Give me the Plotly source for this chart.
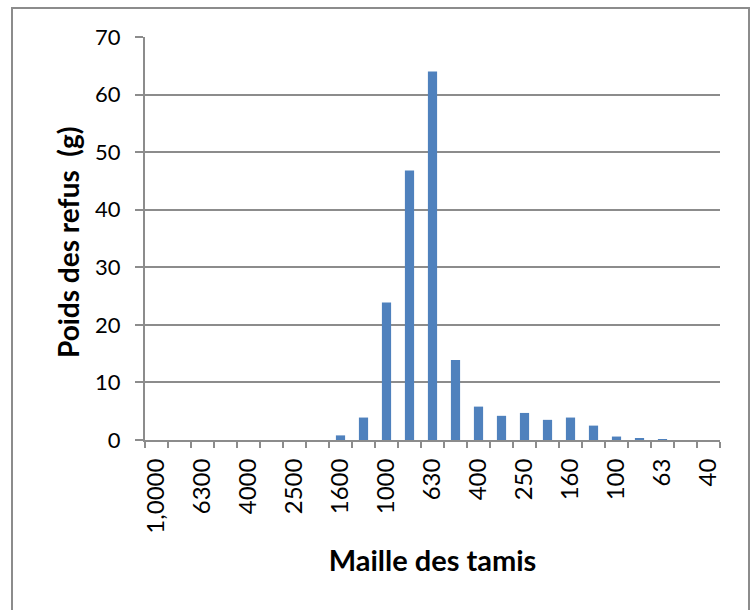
import plotly.graph_objects as go

# Sieve openings (µm) and mass retained on each sieve (g)
sieves = ["1,0000", "8000", "6300", "5000", "4000", "3150", "2500", "2000",
          "1600", "1250", "1000", "800", "630", "500", "400", "315", "250",
          "200", "160", "125", "100", "80", "63", "50", "40"]
retained = [0, 0, 0, 0, 0, 0, 0, 0,
            0.8, 3.9, 23.9, 46.8, 64, 13.9, 5.8, 4.2, 4.7,
            3.5, 3.9, 2.5, 0.6, 0.35, 0.1, 0, 0]

# Only every other sieve gets a visible label
tick_text = [s if i % 2 == 0 else "" for i, s in enumerate(sieves)]

FONT = "Lato, 'Open Sans', sans-serif"
GRID = "#8c8c8c"

fig = go.Figure(
    go.Bar(
        x=sieves,
        y=retained,
        marker=dict(color="#4f81bd", line=dict(width=0)),
        hoverinfo="x+y",
    )
)

fig.update_layout(
    width=755,
    height=610,
    margin=dict(l=145, r=35, t=37, b=170),
    paper_bgcolor="white",
    plot_bgcolor="white",
    bargap=0.6,
    showlegend=False,
    font=dict(family=FONT, color="black", size=22),
)

fig.update_xaxes(
    type="category",
    tickmode="array",
    tickvals=sieves,
    ticktext=tick_text,
    tickson="boundaries",
    tickangle=-90,
    ticks="outside",
    ticklen=6,
    tickwidth=2,
    tickcolor=GRID,
    showline=True,
    linecolor=GRID,
    linewidth=2,
    showgrid=False,
    tickfont=dict(size=24, family=FONT),
    ticklabelstandoff=7,
    title=dict(text="<b>Maille des tamis</b>", font=dict(size=29, family=FONT), standoff=18),
)

fig.update_yaxes(
    range=[0, 70],
    dtick=10,
    ticks="outside",
    ticklen=8,
    tickwidth=2,
    tickcolor=GRID,
    showline=True,
    linecolor=GRID,
    linewidth=2,
    showgrid=True,
    gridcolor=GRID,
    gridwidth=2,
    zeroline=False,
    tickfont=dict(size=22, family=FONT),
    ticklabelstandoff=10,
)

# Vertical axis title
fig.add_annotation(
    text="<b>Poids des refus\u00a0 (g)</b>",
    xref="paper", yref="paper",
    x=(68 - 145) / 575, y=(440 - 242) / 403,
    xanchor="center", yanchor="middle",
    textangle=-90,
    showarrow=False,
    font=dict(size=28, family=FONT, color="black"),
)

# Chart-area frame around the whole figure
fig.add_shape(
    type="rect",
    xref="paper", yref="paper",
    x0=(12 - 145) / 575, x1=(749 - 145) / 575,
    y0=-0.5, y1=1 + 29 / 403,
    line=dict(color=GRID, width=2),
    fillcolor="rgba(0,0,0,0)",
    layer="below",
)

fig.write_html("out.html")
